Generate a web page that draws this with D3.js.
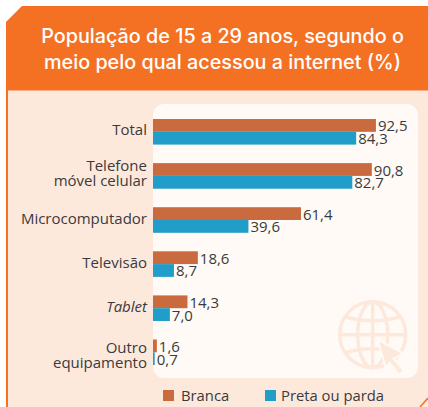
<!DOCTYPE html>
<html>
<head>
<meta charset="utf-8">
<script src="https://cdn.jsdelivr.net/npm/d3@7"></script>
<style>
  html, body { margin: 0; padding: 0; background: #fff; }
  svg { display: block; }
  text { font-family: "Open Sans", sans-serif; }
</style>
</head>
<body>
<div class="chart"></div>
<script>
const categories = ['Total', 'Telefone|móvel celular', 'Microcomputador', 'Televisão', 'Tablet', 'Outro|equipamento'];
const branca = [92.5, 90.8, 61.4, 18.6, 14.3, 1.6];
const pretaParda = [84.3, 82.7, 39.6, 8.7, 7.0, 0.7];
const seriesNames = ['Branca', 'Preta ou parda'];
const titleLines = ['População de 15 a 29 anos, segundo o', 'meio pelo qual acessou a internet (%)'];

const colors = ['#c96a3f', '#209dc8'];
const width = 428, height = 407;

const svg = d3.select('.chart').append('svg')
    .attr('width', width)
    .attr('height', height);

// #region Frame
svg.append('path')
    .attr('d', 'M6 22L22 6H428V407H6Z')
    .attr('fill', '#fde9dc');
svg.append('path')
    .attr('d', 'M7 22V407')
    .attr('stroke', '#f47124')
    .attr('stroke-width', 2);
svg.append('path')
    .attr('d', 'M6 22L22 6H428V90.5H6Z')
    .attr('fill', '#f47124');
svg.append('path')
    .attr('d', 'M420 407L428 398')
    .attr('stroke', '#f47124')
    .attr('stroke-width', 1.5);
svg.append('rect')
    .attr('x', 153).attr('y', 104)
    .attr('width', 265).attr('height', 274)
    .attr('rx', 11)
    .attr('fill', '#fffaf5');
svg.selectAll('.title')
    .data(titleLines)
    .enter()
    .append('text')
    .attr('class', 'title')
    .attr('x', 222.5)
    .attr('y', (d, i) => 43 + i * 26)
    .attr('text-anchor', 'middle')
    .attr('font-size', 19.8)
    .attr('font-weight', 500)
    .attr('fill', '#fff')
    .style('font-family', 'Inter, sans-serif')
    .text(d => d);
// #endregion

// #region Globe icon
const globe = svg.append('g')
    .attr('transform', 'translate(372.7,334.7)')
    .attr('fill', 'none')
    .attr('stroke', '#fde9dc')
    .attr('stroke-width', 3.5);
globe.append('circle').attr('r', 33);
globe.append('ellipse').attr('rx', 15).attr('ry', 33);
globe.append('path').attr('d', 'M0 -33V33M-33 0H33M-28 -18Q0 -10 28 -18M-28 18Q0 10 28 18');
globe.append('path')
    .attr('d', 'M5 5L31 19L21 24L31 36L26 40L17 28L13 33Z')
    .attr('fill', '#fde9dc')
    .attr('stroke', '#fffaf5')
    .attr('stroke-width', 2);
// #endregion

// #region Scales
const xScale = d3.scaleLinear()
    .domain([0, 100])
    .range([153, 394]);
const yScale = d3.scaleBand()
    .domain(categories)
    .range([105.8, 378.3])
    .paddingInner(0.42)
    .paddingOuter(0.3);
const band = yScale.bandwidth() / 2;
// #endregion

// #region Bars and labels
[branca, pretaParda].forEach((values, s) => {
    svg.append('g').selectAll('rect')
        .data(values)
        .enter()
        .append('rect')
        .attr('x', xScale(0))
        .attr('y', (d, i) => yScale(categories[i]) + s * band)
        .attr('width', d => xScale(d) - xScale(0))
        .attr('height', band)
        .attr('fill', colors[s]);
    svg.append('g').selectAll('text')
        .data(values)
        .enter()
        .append('text')
        .attr('x', d => xScale(d) + 2)
        .attr('y', (d, i) => yScale(categories[i]) + s * band + band / 2 + 6)
        .attr('font-size', 15)
        .attr('fill', '#3a3a3c')
        .text(d => d.toFixed(1).replace('.', ','));
});
// #endregion

// #region Category axis
const labelNudge = [-1, -1, 0, 0, 0, 4];
const gAxis = svg.append('g')
    .attr('transform', 'translate(147,0)')
    .call(d3.axisLeft(yScale).tickSize(0).tickPadding(0));
gAxis.select('.domain').remove();
gAxis.selectAll('text')
    .attr('font-size', 15)
    .attr('font-family', '"Open Sans", sans-serif')
    .attr('fill', '#3a3a3c')
    .attr('dy', null)
    .attr('font-style', d => d === 'Tablet' ? 'italic' : 'normal')
    .each(function (d) {
        const lines = d.split('|');
        const text = d3.select(this).text(null);
        lines.forEach((line, i) => {
            text.append('tspan')
                .attr('x', 0)
                .attr('y', 4 + labelNudge[categories.indexOf(d)] + (i - (lines.length - 1) / 2) * 15)
                .text(line);
        });
    });
// #endregion

// #region Legend
const legendX = [163, 265];
const legendTextX = [181, 281];
seriesNames.forEach((name, i) => {
    svg.append('rect')
        .attr('x', legendX[i]).attr('y', 390)
        .attr('width', 11).attr('height', 11)
        .attr('fill', colors[i]);
    svg.append('text')
        .attr('x', legendTextX[i]).attr('y', 401)
        .attr('font-size', 14.8)
        .attr('fill', '#3a3a3c')
        .text(name);
});
// #endregion
</script>
</body>
</html>
